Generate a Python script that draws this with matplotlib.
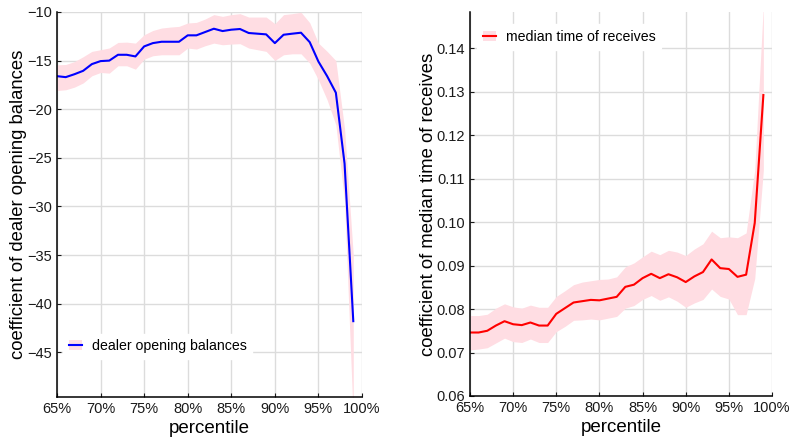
import matplotlib
matplotlib.use("Agg")
import matplotlib.pyplot as plt
from matplotlib.patches import Patch
from matplotlib.lines import Line2D
from matplotlib.ticker import FuncFormatter
import numpy as np

plt.rcParams["font.family"] = ["Liberation Sans", "DejaVu Sans"]

# percentiles 65% .. 99%
percentiles = np.arange(65, 100) / 100.0

dealer_coef = [
    -16.6, -16.7, -16.4, -16.05, -15.36, -15.05, -15.0, -14.4, -14.4, -14.57,
    -13.54, -13.2, -13.06, -13.06, -13.06, -12.4, -12.4, -12.06, -11.72, -11.96,
    -11.82, -11.75, -12.16, -12.23, -12.3, -13.2, -12.34, -12.23, -12.13, -13.1,
    -15.1, -16.6, -18.3, -25.6, -41.8,
]
dealer_upper = [
    -15.43, -15.4, -15.1, -14.6, -14.05, -13.88, -13.7, -13.13, -13.1, -13.2,
    -12.34, -11.9, -11.65, -11.55, -11.48, -11.13, -11.07, -10.72, -10.27, -10.45,
    -10.27, -10.17, -10.52, -10.52, -10.52, -11.2, -10.27, -10.17, -10.03, -11.1,
    -13.2, -14.05, -15.0, -22.0, -35.0,
]
dealer_lower = [
    -18.08, -18.0, -17.73, -17.3, -16.56, -16.22, -16.29, -15.53, -15.53, -15.88,
    -14.85, -14.5, -14.4, -14.4, -14.4, -13.71, -13.81, -13.47, -13.2, -13.37,
    -13.3, -13.26, -13.71, -13.88, -14.05, -14.98, -14.4, -14.3, -14.3, -15.26,
    -16.98, -19.04, -21.6, -29.5, -52.0,
]

receive_coef = [
    0.0746, 0.0746, 0.0750, 0.0762, 0.0772, 0.0765, 0.0763, 0.0769, 0.0762, 0.0762,
    0.0789, 0.0802, 0.0815, 0.0818, 0.0821, 0.0820, 0.0824, 0.0828, 0.0851, 0.0856,
    0.0871, 0.0881, 0.0871, 0.0880, 0.0873, 0.0862, 0.0875, 0.0885, 0.0914, 0.0894,
    0.0892, 0.0874, 0.0879, 0.0998, 0.1292,
]
receive_upper = [
    0.0785, 0.0785, 0.0788, 0.0802, 0.0812, 0.0805, 0.0802, 0.0809, 0.0804, 0.0804,
    0.0829, 0.0842, 0.0856, 0.0862, 0.0865, 0.0868, 0.0869, 0.0874, 0.0897, 0.0906,
    0.0920, 0.0933, 0.0925, 0.0935, 0.0931, 0.0923, 0.0938, 0.0950, 0.0979, 0.0964,
    0.0966, 0.0964, 0.0975, 0.1120, 0.1500,
]
receive_lower = [
    0.0706, 0.0708, 0.0711, 0.0722, 0.0733, 0.0725, 0.0723, 0.0731, 0.0723, 0.0723,
    0.0748, 0.0760, 0.0774, 0.0775, 0.0777, 0.0775, 0.0779, 0.0783, 0.0802, 0.0808,
    0.0822, 0.0831, 0.0820, 0.0828, 0.0818, 0.0804, 0.0814, 0.0822, 0.0846, 0.0829,
    0.0823, 0.0787, 0.0787, 0.0870, 0.1120,
]

x_ticks = np.arange(65, 101, 5) / 100.0
band_color = "#ffdde3"


def style_axes(ax):
    ax.set_xlim(0.65, 1.0)
    ax.set_xticks(x_ticks)
    ax.xaxis.set_major_formatter(FuncFormatter(lambda v, _: f"{v * 100:.0f}%"))
    ax.grid(True, color="#dcdcdc", linewidth=1.0)
    ax.set_axisbelow(True)
    for side in ("top", "right"):
        ax.spines[side].set_visible(False)
    for side in ("left", "bottom"):
        ax.spines[side].set_color("black")
        ax.spines[side].set_linewidth(1.1)
    ax.tick_params(direction="in", length=3, labelsize=10.5, colors="#1a1a1a")
    ax.set_xlabel("percentile", fontsize=13.5, labelpad=3)


def panel(ax, y, lo, hi, color, label, loc, anchor, ylabel):
    ax.fill_between(percentiles, lo, hi, color=band_color, linewidth=0)
    ax.plot(percentiles, y, color=color, linewidth=1.5)
    style_axes(ax)
    ax.set_ylabel(ylabel, fontsize=13.3, labelpad=0)
    handle = (Patch(facecolor=band_color, edgecolor="none"),
              Line2D([], [], color=color, linewidth=1.5))
    leg = ax.legend([handle], [label], loc=loc, bbox_to_anchor=anchor,
                    fontsize=10.2, frameon=True, handlelength=0.9,
                    handletextpad=0.7, borderaxespad=1.0)
    leg.get_frame().set_edgecolor("white")
    leg.get_frame().set_facecolor("white")
    leg.get_frame().set_alpha(1.0)


fig = plt.figure(figsize=(7.91, 4.37), dpi=100)
ax1 = fig.add_axes([57 / 791, 1 - 397 / 437, 305 / 791, 385 / 437])
ax2 = fig.add_axes([470 / 791, 1 - 396 / 437, 302 / 791, 384 / 437])

panel(ax1, dealer_coef, dealer_lower, dealer_upper, "blue",
      "dealer opening balances", "lower left", (-0.026, 0.062),
      "coefficient of dealer opening balances")
ax1.set_ylim(-49.6, -10)
ax1.set_yticks(np.arange(-45, -9, 5))

panel(ax2, receive_coef, receive_lower, receive_upper, "red",
      "median time of receives", "upper left", (-0.023, 1.005),
      "coefficient of median time of receives")
ax2.set_ylim(0.06, 0.1483)
ax2.set_yticks(np.arange(0.06, 0.141, 0.01))
ax2.yaxis.set_major_formatter(FuncFormatter(lambda v, _: f"{v:.2f}"))

fig.savefig("out.png", dpi=100)
